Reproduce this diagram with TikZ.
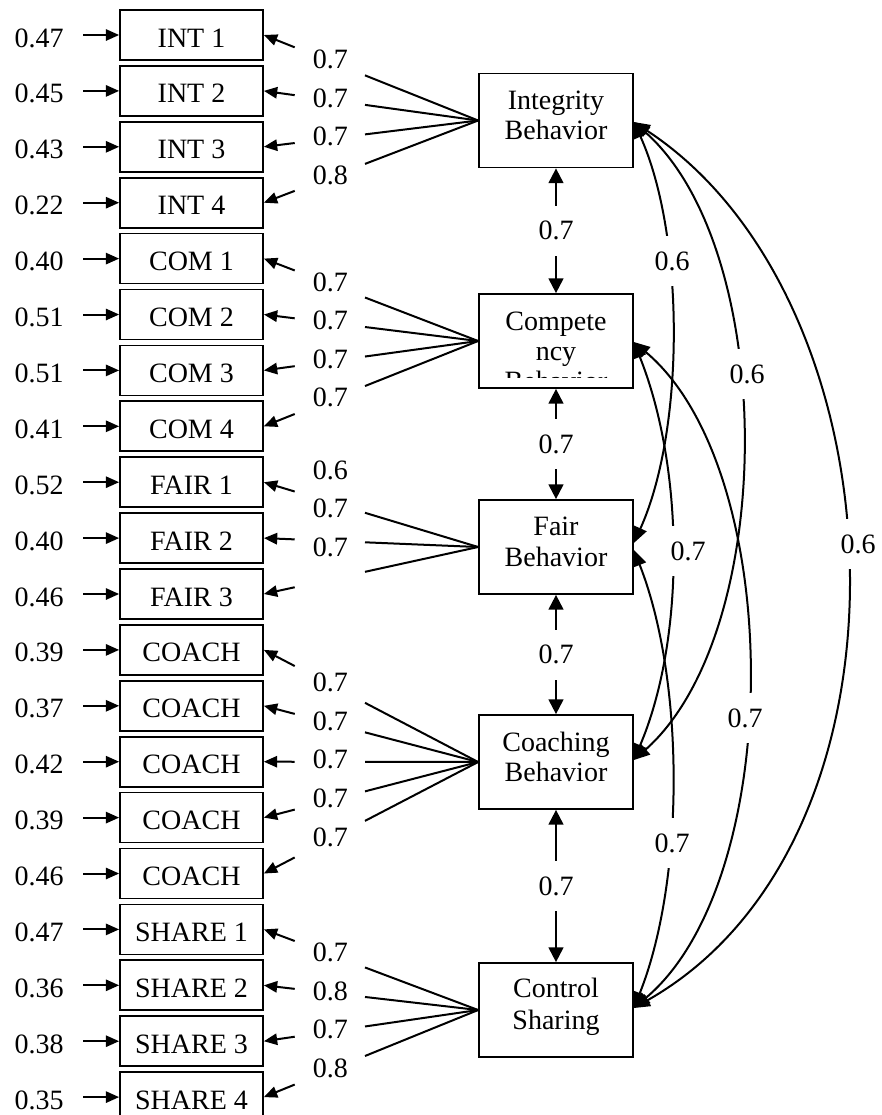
\documentclass[tikz,border=0pt]{standalone}
\usepackage{fontspec}
\setmainfont{Liberation Serif}
\usetikzlibrary{arrows.meta,calc}
\begin{document}
\begin{tikzpicture}[x=0.75pt,y=-0.75pt,
  font=\fontsize{21}{25}\selectfont,
  line width=1.5pt,
  ind/.style={draw, line width=1.3pt, minimum width=107.25pt, minimum height=37.5pt, inner sep=0pt, text height=18pt, text depth=0pt},
  err/.style={inner sep=0pt, text height=18pt, text depth=0pt},
  lat/.style={draw, line width=1.3pt, minimum width=115.5pt, minimum height=70.5pt, inner sep=0pt},
  lattext/.style={anchor=base, inner sep=0pt},
  lab/.style={inner sep=0pt},
  tip/.style={-{Triangle[length=10pt,width=8.5pt]}},
  vbi/.style={{Triangle[length=11pt,width=11pt]}-{Triangle[length=11pt,width=11pt]}},
  cov/.style={{Triangle[length=12pt,width=10pt]}-{Triangle[length=12pt,width=10pt]}},
  gap/.style={fill=white, inner sep=0pt, minimum width=45pt, minimum height=37.5pt},
]
\useasboundingbox (0,0) rectangle (882,1115);

% indicators and error terms
\foreach \i/\t/\e in {0/INT 1/0.47, 1/INT 2/0.45, 2/INT 3/0.43, 3/INT 4/0.22,
  4/COM 1/0.40, 5/COM 2/0.51, 6/COM 3/0.51, 7/COM 4/0.41,
  8/FAIR 1/0.52, 9/FAIR 2/0.40, 10/FAIR 3/0.46,
  11/COACH/0.39, 12/COACH/0.37, 13/COACH/0.42, 14/COACH/0.39, 15/COACH/0.46,
  16/SHARE 1/0.47, 17/SHARE 2/0.36, 18/SHARE 3/0.38, 19/SHARE 4/0.35} {
  \node[ind] (i\i) at (191.5, {35+55.9*\i}) {\t};
  \node[err] (e\i) at (39, {35+55.9*\i}) {\e};
  \draw[tip, shorten <=14pt] (e\i.east) -- (i\i.west);
}

% latent variables
\node[lat] (int) at (556,120.5) {};
\node[lat] (comp) at (556,341) {};
\node[lat] (fair) at (556,547) {};
\node[lat] (coach) at (556,762) {};
\node[lat] (ctrl) at (556,1010) {};

\node[lattext] (intA) at ($(int.north)+(0,37)$) {Integrity};
\node[lattext] (intB) at ($(int.north)+(0,67)$) {Behavior};
\begin{scope}
  \clip ($(comp.north west)+(2,2)$) rectangle ($(comp.south east)+(-2,-11)$);
  \node[lattext] (compA) at ($(comp.north)+(0,37)$) {Compete};
  \node[lattext] (compB) at ($(comp.north)+(0,67)$) {ncy};
  \node[lattext] (compC) at ($(comp.north)+(0,97)$) {Behavior};
\end{scope}
\node[lattext] (fairA) at ($(fair.north)+(0,36)$) {Fair};
\node[lattext] (fairB) at ($(fair.north)+(0,67)$) {Behavior};
\node[lattext] (coachA) at ($(coach.north)+(0,37)$) {Coaching};
\node[lattext] (coachB) at ($(coach.north)+(0,67)$) {Behavior};
\node[lattext] (ctrlA) at ($(ctrl.north)+(0,35)$) {Control};
\node[lattext] (ctrlB) at ($(ctrl.north)+(0,67)$) {Sharing};

% loadings
\foreach \lv/\i/\val/\dy in {int/0/0.7/-2, int/1/0.7/-2, int/2/0.7/-2, int/3/0.8/-2,
  comp/4/0.7/-2, comp/5/0.7/-2, comp/6/0.7/-2, comp/7/0.7/-2,
  fair/8/0.6/-32, fair/9/0.7/-32, fair/10/0.7/-32,
  coach/11/0.7/-2, coach/12/0.7/-2, coach/13/0.7/-2, coach/14/0.7/-2, coach/15/0.7/-2,
  ctrl/16/0.7/-2, ctrl/17/0.8/-2, ctrl/18/0.7/-2, ctrl/19/0.8/-2} {
  \coordinate (a\i) at ($(\lv.west)!0.528!(i\i.east)$);
  \coordinate (b\i) at ($(\lv.west)!0.856!(i\i.east)$);
  \draw (\lv.west) -- (a\i);
  \draw[tip] (b\i) -- (i\i.east);
  \node[lab] (l\i) at ($(\lv.west)!0.69!(i\i.east)+(0,\dy)$) {\val};
}

% correlations between adjacent factors
\draw[vbi] (int.south) -- node[gap] (v1) {0.7} (comp.north);
\draw[vbi] (comp.south) -- node[gap] (v2) {0.7} (fair.north);
\draw[vbi] (fair.south) -- node[gap] (v3) {0.7} (coach.north);
\draw[vbi] (coach.south) -- node[gap] (v4) {0.7} (ctrl.north);

% curved correlations
\draw[cov] ($(int.east)+(0,1.5)$) .. controls (685,235) and (685,430) .. ($(fair.east)+(0,-4)$);
\draw[cov] ($(int.east)+(0,1.5)$) .. controls (778,250) and (778,632) .. ($(coach.east)+(0,-2)$);
\draw[cov] ($(int.east)+(0,1.5)$) .. controls (905,300) and (930,840) .. ($(ctrl.east)+(0,-2)$);
\draw[cov] ($(comp.east)+(0,1)$) .. controls (685,470) and (685,640) .. ($(coach.east)+(0,-2)$);
\draw[cov] ($(comp.east)+(0,1)$) .. controls (786,470) and (786,880) .. ($(ctrl.east)+(0,-2)$);
\draw[cov] ($(fair.east)+(0,3)$) .. controls (685,680) and (685,880) .. ($(ctrl.east)+(0,-2)$);

\node[gap] (c1) at (672,261) {0.6};
\node[gap] (c2) at (747,374) {0.6};
\node[gap] (c3) at (688,551) {0.7};
\node[gap] (c4) at (858,544) {0.6};
\node[gap] (c5) at (745,718) {0.7};
\node[gap] (c6) at (672,843) {0.7};
\end{tikzpicture}
\end{document}
